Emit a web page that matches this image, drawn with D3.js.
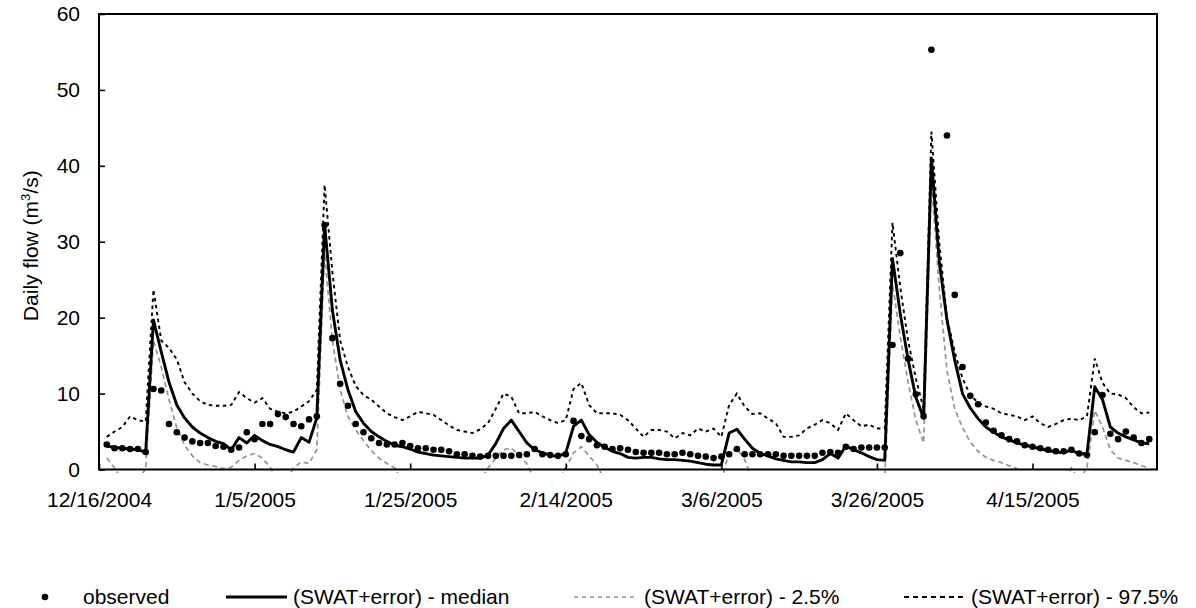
<!DOCTYPE html>
<html>
<head>
<meta charset="utf-8">
<script src="https://cdn.jsdelivr.net/npm/d3@7"></script>
<style>
  html, body { margin: 0; padding: 0; background: #fff; }
  svg { display: block; font-family: "Liberation Sans", Arial, sans-serif; }
</style>
</head>
<body>
<svg id="chart" width="1196" height="608"></svg>
<script>
// ---------- data (daily values, first day = startDate) ----------
const startDate = "12/17/2004";
const axisStart = "12/16/2004";
const axisEnd = "5/1/2005";
const tickLabels = ["12/16/2004","1/5/2005","1/25/2005","2/14/2005","3/6/2005","3/26/2005","4/15/2005"];
const yTicks = [0,10,20,30,40,50,60];

const observed = [3.3,2.8,2.8,2.7,2.7,2.3,10.6,10.4,6.0,4.9,
  4.2,3.7,3.5,3.5,3.1,3.0,2.6,2.9,4.9,4.0,
  6.0,6.0,7.3,6.9,6.0,5.7,6.6,7.0,32.2,17.3,
  11.3,8.4,6.0,4.9,4.1,3.5,3.3,3.3,3.5,3.1,
  2.8,2.8,2.6,2.6,2.4,2.0,2.0,1.8,1.7,1.8,
  1.8,1.8,1.8,1.9,2.0,2.7,2.0,1.9,1.8,2.0,
  6.4,4.4,4.0,3.2,3.0,2.7,2.8,2.6,2.3,2.2,
  2.2,2.2,2.0,2.0,2.2,2.0,1.8,1.7,1.5,1.7,
  2.0,2.7,2.0,2.0,2.0,2.0,2.0,1.8,1.8,1.8,
  1.8,1.8,2.2,2.3,2.2,3.0,2.7,2.9,2.9,2.9,
  2.9,16.4,28.5,14.6,9.9,7.0,55.3,null,44.0,23.0,
  13.5,9.7,8.6,6.2,5.1,4.5,4.0,3.7,3.2,3.0,
  2.8,2.6,2.4,2.4,2.6,2.1,1.9,4.9,9.8,4.7,
  4.0,5.0,4.2,3.5,4.0];

const median = [3.1,2.9,2.8,2.7,2.6,2.3,19.7,15.5,11.5,8.5,
  6.8,5.6,4.8,4.2,3.7,3.4,2.6,4.2,3.5,4.5,
  3.8,3.3,3.0,2.6,2.3,4.2,3.6,6.8,32.3,21.0,
  14.4,10.5,7.6,6.1,5.0,4.3,3.7,3.2,3.0,2.7,
  2.3,2.1,1.9,1.8,1.7,1.6,1.5,1.5,1.5,1.9,
  3.4,5.4,6.5,5.0,3.5,2.6,2.2,1.9,1.7,2.2,
  5.7,6.5,4.6,3.6,2.9,2.4,2.1,1.6,1.5,1.6,
  1.6,1.4,1.3,1.3,1.2,1.1,0.9,0.7,0.6,0.6,
  4.8,5.3,4.0,2.8,2.1,1.8,1.4,1.2,1.0,1.0,
  0.9,0.9,1.3,2.1,1.5,3.1,2.6,2.2,1.7,1.3,
  1.2,27.8,20.5,14.5,9.5,6.8,41.0,27.5,19.7,14.4,
  10.0,8.1,6.7,5.6,4.9,4.3,3.9,3.5,3.2,3.0,
  2.7,2.5,2.3,2.2,2.6,2.0,2.1,10.9,9.2,5.6,
  4.8,4.3,3.9,3.5,3.4];

const p975 = [4.3,5.0,5.6,7.0,6.5,6.3,23.7,17.0,16.0,14.5,
  11.5,10.0,9.0,8.5,8.4,8.4,8.5,10.2,9.4,8.8,
  9.4,8.0,7.6,7.4,7.6,8.3,9.0,10.5,37.5,26.0,
  17.0,13.5,11.0,9.8,9.2,8.3,7.4,6.9,6.5,7.0,
  7.6,7.4,7.2,6.5,5.8,5.2,5.0,4.8,5.3,6.1,
  8.0,10.0,9.6,7.4,7.4,7.6,7.0,6.5,6.1,6.5,
  10.6,11.4,8.5,7.4,7.4,7.4,7.2,6.5,5.4,4.3,
  5.2,5.2,5.0,4.1,4.8,4.5,5.4,5.0,5.4,4.3,
  8.5,10.0,8.3,7.3,7.4,6.7,6.1,4.3,4.3,4.5,
  5.4,5.9,6.5,6.1,5.2,7.4,6.5,5.7,5.9,5.4,
  5.4,32.5,24.0,17.0,12.0,8.0,44.5,30.0,20.0,15.5,
  12.0,9.8,8.8,8.3,8.0,7.4,7.2,7.0,6.5,7.0,
  6.1,5.6,6.0,6.5,6.7,6.5,7.0,14.6,11.4,10.0,
  9.9,9.4,8.2,7.4,7.5];

// lower band dips slightly below the axis where it is clipped
const p025 = [1.5,0.2,-1.5,-1.5,-1.5,0.1,17.0,13.5,9.2,5.5,
  3.2,1.8,0.9,0.6,0.4,0.1,0.3,1.2,1.8,2.1,
  1.5,0.3,-1.5,-1.5,0.2,1.0,0.8,2.6,28.5,17.0,
  10.5,7.0,5.2,3.8,2.5,1.5,0.8,0.2,-1.5,-1.5,
  -1.5,-1.5,-1.5,-1.5,-1.5,-1.5,-1.5,-1.5,-1.5,0.2,
  1.5,2.6,2.8,1.8,0.8,-1.5,-1.5,-1.5,-1.5,0.2,
  2.2,3.0,1.8,0.6,-1.5,-1.5,-1.5,-1.5,-1.5,-1.5,
  -1.5,-1.5,-1.5,-1.5,-1.5,-1.5,-1.5,-1.5,-1.5,-1.5,
  2.3,2.8,1.3,-1.5,-1.5,-1.5,-1.5,-1.5,-1.5,-1.5,
  -1.5,-1.5,-1.5,-1.5,-1.5,-1.5,-1.5,-1.5,-1.5,-1.5,
  -1.5,24.5,17.5,11.5,6.5,3.5,38.0,24.0,13.0,8.0,
  5.5,3.6,2.4,1.6,1.2,0.9,0.5,0.1,-1.5,-1.5,
  -1.5,-1.5,-1.5,-1.5,0.2,-1.5,0.3,7.8,5.6,2.6,
  1.5,1.2,0.9,0.5,0.2];

const legendLabels = ["observed","(SWAT+error) - median","(SWAT+error) - 2.5%","(SWAT+error) - 97.5%"];

// ---------- layout ----------
const W = 1196, H = 608;
const FS = 21;
const m = {left: 99, top: 14, right: 39, bottom: 138.5};
const iw = W - m.left - m.right, ih = H - m.top - m.bottom;
const parse = d3.utcParse("%m/%d/%Y");
const fmt = d3.utcFormat("%-m/%-d/%Y");
const t0 = parse(startDate);
const dates = observed.map((_, i) => d3.utcDay.offset(t0, i));

const x = d3.scaleUtc().domain([parse(axisStart), parse(axisEnd)]).range([0, iw]);
const y = d3.scaleLinear().domain([0, 60]).range([ih, 0]);

const svg = d3.select("#chart");
svg.append("defs").append("clipPath").attr("id", "plotclip")
  .append("rect").attr("x", -2).attr("y", -2).attr("width", iw + 4).attr("height", ih + 5.5);
const g = svg.append("g").attr("transform", `translate(${m.left},${m.top})`);
const gp = g.append("g").attr("clip-path", "url(#plotclip)");

const GRAY = "#939393";
const lineOf = arr => d3.line()
  .defined((d, i) => arr[i] != null)
  .x((d, i) => x(dates[i]))
  .y((d, i) => y(arr[i]))(arr);

gp.append("path").attr("d", lineOf(p025))
  .attr("fill", "none").attr("stroke", GRAY).attr("stroke-width", 1.7)
  .attr("stroke-dasharray", "5,3.5");
gp.append("path").attr("d", lineOf(p975))
  .attr("fill", "none").attr("stroke", "#000").attr("stroke-width", 1.9)
  .attr("stroke-dasharray", "3.5,3.5");
gp.append("path").attr("d", lineOf(median))
  .attr("fill", "none").attr("stroke", "#000").attr("stroke-width", 2.9)
  .attr("stroke-linejoin", "round");

g.selectAll("circle.obs").data(observed.map((v, i) => ({v, d: dates[i]})).filter(o => o.v != null))
  .enter().append("circle").attr("class", "obs")
  .attr("cx", o => x(o.d)).attr("cy", o => y(o.v)).attr("r", 3.3).attr("fill", "#000");

// axes
const xAxis = d3.axisBottom(x).tickValues(tickLabels.map(parse)).tickFormat(fmt).tickSizeInner(-6).tickSizeOuter(0).tickPadding(23);
const yAxis = d3.axisLeft(y).tickValues(yTicks).tickSizeInner(-6).tickSizeOuter(0).tickPadding(19);

const gx = g.append("g").attr("transform", `translate(0,${ih})`).call(xAxis);
const gy = g.append("g").call(yAxis);
[gx, gy].forEach(a => {
  a.select(".domain").remove();
  a.selectAll(".tick line").attr("stroke", "#000").attr("stroke-width", 1.6);
  a.selectAll("text").attr("fill", "#000").attr("font-size", FS).attr("font-family", "'Liberation Sans', Arial, sans-serif");
});

// frame
g.append("rect").attr("x", 0).attr("y", 0).attr("width", iw).attr("height", ih)
  .attr("fill", "none").attr("stroke", "#000").attr("stroke-width", 2);

// y title
const yt = svg.append("text")
  .attr("transform", `translate(38,${m.top + ih / 2 + 4}) rotate(-90)`)
  .attr("text-anchor", "middle").attr("font-size", FS).attr("fill", "#000");
yt.append("tspan").text("Daily flow (m");
yt.append("tspan").attr("font-size", 13).attr("dy", -8).text("3");
yt.append("tspan").attr("dy", 8).text("/s)");

// legend
const ly = 597;
const leg = svg.append("g").attr("font-size", FS).attr("fill", "#000");
leg.append("circle").attr("cx", 45).attr("cy", ly).attr("r", 3.3).attr("fill", "#000");
leg.append("text").attr("x", 83).attr("y", ly).attr("dy", "0.35em").text(legendLabels[0]);
leg.append("line").attr("x1", 226).attr("x2", 287).attr("y1", ly).attr("y2", ly).attr("stroke", "#000").attr("stroke-width", 2.9);
leg.append("text").attr("x", 293).attr("y", ly).attr("dy", "0.35em").text(legendLabels[1]);
leg.append("line").attr("x1", 574).attr("x2", 637).attr("y1", ly).attr("y2", ly).attr("stroke", GRAY).attr("stroke-width", 1.4).attr("stroke-dasharray", "4,4");
leg.append("text").attr("x", 644).attr("y", ly).attr("dy", "0.35em").text(legendLabels[2]);
leg.append("line").attr("x1", 904).attr("x2", 966).attr("y1", ly).attr("y2", ly).attr("stroke", "#000").attr("stroke-width", 1.9).attr("stroke-dasharray", "5,4");
leg.append("text").attr("x", 971).attr("y", ly).attr("dy", "0.35em").text(legendLabels[3]);
</script>
</body>
</html>
